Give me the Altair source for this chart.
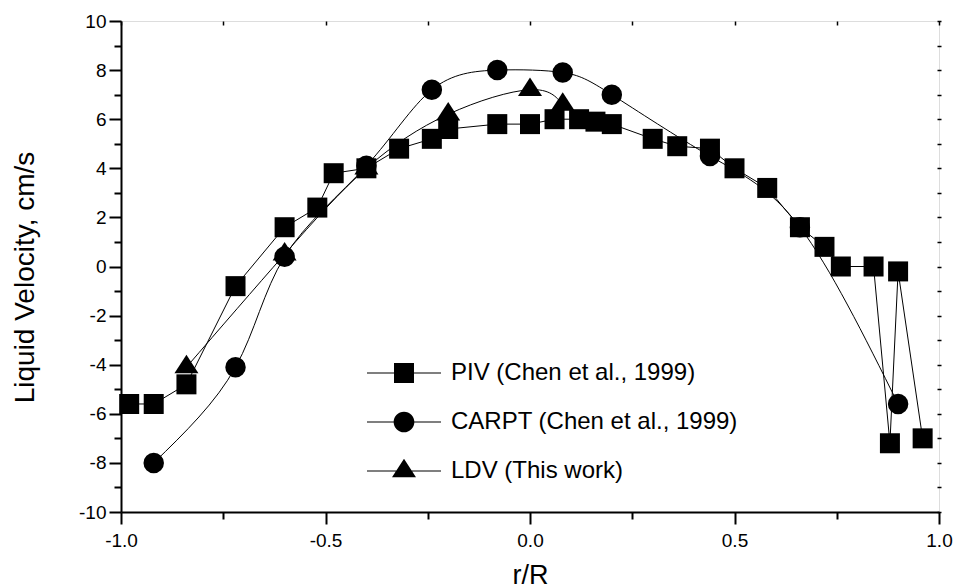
import altair as alt
import pandas as pd

# ---- data ----
piv_x = [-0.98, -0.92, -0.84, -0.72, -0.60, -0.52, -0.48, -0.40, -0.32, -0.24, -0.20,
         -0.08, 0.00, 0.06, 0.12, 0.16, 0.20, 0.30, 0.36, 0.44, 0.50, 0.58, 0.66,
         0.72, 0.76, 0.84, 0.88, 0.90, 0.96]
piv_y = [-5.6, -5.6, -4.8, -0.8, 1.6, 2.4, 3.8, 4.0, 4.8, 5.2, 5.6,
         5.8, 5.8, 6.0, 6.0, 5.9, 5.8, 5.2, 4.9, 4.8, 4.0, 3.2, 1.6,
         0.8, 0.0, 0.0, -7.2, -0.2, -7.0]

carpt_x = [-0.92, -0.72, -0.60, -0.40, -0.24, -0.08, 0.08, 0.20, 0.44, 0.66, 0.90]
carpt_y = [-8.0, -4.1, 0.4, 4.1, 7.2, 8.0, 7.9, 7.0, 4.5, 1.6, -5.6]

ldv_x = [-0.84, -0.60, -0.40, -0.20, 0.00, 0.08]
ldv_y = [-4.1, 0.5, 4.0, 6.2, 7.2, 6.6]

series_names = ["PIV (Chen et al., 1999)", "CARPT (Chen et al., 1999)", "LDV (This work)"]

x_major = [-1.0, -0.5, 0.0, 0.5, 1.0]
x_minor = [-0.75, -0.25, 0.25, 0.75]
x_top = [-1.0, -0.75, -0.5, -0.25, 0.0, 0.25, 0.5, 0.75, 1.0]
y_major = [-10, -8, -6, -4, -2, 0, 2, 4, 6, 8, 10]
y_minor = [-9, -7, -5, -3, -1, 1, 3, 5, 7, 9]
y_right = list(range(-10, 11))

piv = pd.DataFrame({"x": piv_x, "y": piv_y})
carpt = pd.DataFrame({"x": carpt_x, "y": carpt_y})
ldv = pd.DataFrame({"x": ldv_x, "y": ldv_y})
legend_df = pd.DataFrame({"series": series_names})

FONT = "Liberation Sans"
xs = alt.Scale(domain=[-1, 1], nice=False, zero=False)
ys = alt.Scale(domain=[-10, 10], nice=False, zero=False)

TRI = "M0,-1.23L1.2,0.62L-1.2,0.62Z"


def data_layer(df, mark):
    return mark(alt.Chart(df)).encode(
        x=alt.X("x:Q", scale=xs, axis=None),
        y=alt.Y("y:Q", scale=ys, axis=None),
    )


line_piv = data_layer(piv, lambda c: c.mark_line(color="black", strokeWidth=1))
line_carpt = data_layer(carpt, lambda c: c.mark_line(color="black", strokeWidth=1, interpolate="natural"))
line_ldv = data_layer(ldv, lambda c: c.mark_line(color="black", strokeWidth=1, interpolate="natural"))

pt_carpt = data_layer(carpt, lambda c: c.mark_point(shape="circle", filled=True, color="black", size=420, opacity=1))
pt_ldv = data_layer(ldv, lambda c: c.mark_point(shape=TRI, filled=True, color="black", size=400, opacity=1))
pt_piv = data_layer(piv, lambda c: c.mark_point(shape="square", filled=True, color="black", size=400, opacity=1))

minus_fmt = "datum.value < 0 ? '-' + format(-datum.value, '{f}') : format(datum.value, '{f}')"

axis_major = alt.Chart(piv).mark_point(opacity=0).encode(
    x=alt.X("x:Q", scale=xs, axis=alt.Axis(
        orient="bottom", values=x_major, labelExpr=minus_fmt.format(f=".1f"),
        tickSize=12, tickWidth=2, tickColor="black", domainWidth=2, domainColor="black",
        labelFont=FONT, labelFontSize=19, labelColor="black", labelPadding=7, labelFlush=False,
        grid=False, title="r/R", titleFont=FONT, titleFontSize=27, titleFontWeight="normal",
        titleColor="black", titleY=71, titleBaseline="alphabetic")),
    y=alt.Y("y:Q", scale=ys, axis=alt.Axis(
        orient="left", values=y_major, labelExpr=minus_fmt.format(f="d"),
        tickSize=12, tickWidth=2, tickColor="black", domainWidth=2, domainColor="black",
        labelFont=FONT, labelFontSize=19, labelColor="black", labelPadding=3, labelFlush=False,
        grid=False, title="Liquid Velocity, cm/s", titleFont=FONT, titleFontSize=28,
        titleFontWeight="normal", titleColor="black", titleAngle=270, titleX=-88, titleY=256,
        titleBaseline="alphabetic")),
)

axis_minor = alt.Chart(piv).mark_point(opacity=0).encode(
    x=alt.X("x:Q", scale=xs, axis=alt.Axis(
        orient="bottom", values=x_minor, labels=False, domain=False, grid=False,
        tickSize=7, tickWidth=2, tickColor="black", title=None)),
    y=alt.Y("y:Q", scale=ys, axis=alt.Axis(
        orient="left", values=y_minor, labels=False, domain=False, grid=False,
        tickSize=7, tickWidth=2, tickColor="black", title=None)),
)

axis_box = alt.Chart(piv).mark_point(opacity=0).encode(
    x=alt.X("x:Q", scale=xs, axis=alt.Axis(
        orient="top", values=x_top, labels=False, domain=False, grid=False,
        tickSize=4, tickWidth=1.5, tickColor="black", offset=-4, title=None)),
    y=alt.Y("y:Q", scale=ys, axis=alt.Axis(
        orient="right", values=y_right, labels=False, domain=False, grid=False,
        tickSize=4, tickWidth=1.5, tickColor="black", offset=-2, title=None)),
)

# legend symbols: a line with the marker in the middle
SQ_PATH = "M-1,-0.014H1V0.014H-1Z M-0.27,-0.27H0.27V0.27H-0.27Z"
CI_PATH = "M-1,-0.014H1V0.014H-1Z M-0.28,0A0.28,0.28 0 1 1 0.28,0A0.28,0.28 0 1 1 -0.28,0Z"
TR_PATH = "M-1,-0.014H1V0.014H-1Z M0,-0.332L0.324,0.168L-0.324,0.168Z"

legend_layer = alt.Chart(legend_df).transform_filter("false").mark_point(
    filled=True, color="black", size=5476
).encode(
    shape=alt.Shape("series:N", scale=alt.Scale(domain=series_names, range=[SQ_PATH, CI_PATH, TR_PATH]),
                    legend=alt.Legend(
                        title=None, orient="none", legendX=246, legendY=315,
                        symbolSize=5476, symbolFillColor="black", symbolStrokeWidth=0,
                        symbolOpacity=1, labelFont=FONT, labelFontSize=24, labelColor="black",
                        labelOffset=10, labelLimit=0, rowPadding=-27.5, labelBaseline="middle")),
)

chart = alt.layer(
    axis_major, axis_minor, axis_box,
    line_piv, line_carpt, line_ldv,
    pt_carpt, pt_ldv, pt_piv,
    legend_layer,
).resolve_axis(x="independent", y="independent").properties(
    width=818, height=491,
    autosize=alt.AutoSizeParams(type="none"),
    padding={"left": 121, "top": 21, "right": 19, "bottom": 76},
).configure_view(stroke="black", strokeWidth=2).configure(background="white")

chart.save("out.html", embed_options={"renderer": "svg", "actions": False})
